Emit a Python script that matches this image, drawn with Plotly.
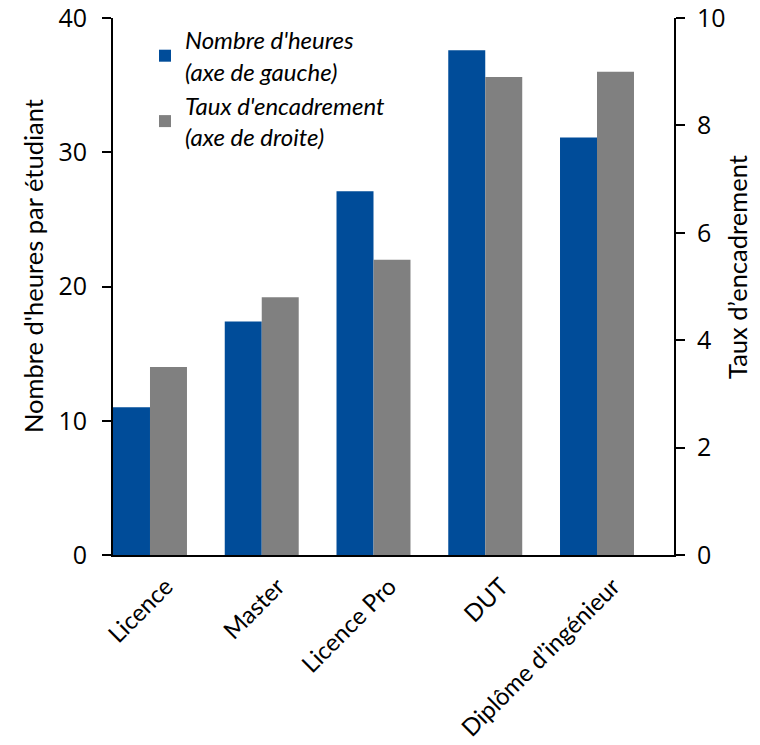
import plotly.graph_objects as go

# Filières et valeurs
categories = ["Licence", "Master", "Licence Pro", "DUT", "Diplôme d’ingénieur"]
heures = [11.0, 17.4, 27.1, 37.6, 31.1]          # axe de gauche
encadrement = [3.5, 4.8, 5.5, 8.9, 9.0]          # axe de droite
left_ticks = [0, 10, 20, 30, 40]
right_ticks = [0, 2, 4, 6, 8, 10]

BLUE = "#004C99"
GREY = "#808080"
BAR_W = 0.331
xpos = list(range(len(categories)))

fig = go.Figure()
fig.add_trace(go.Bar(
    x=xpos, y=heures, name="Nombre d'heures<br>(axe de gauche)",
    marker=dict(color=BLUE, line=dict(width=0)),
    width=BAR_W, offset=-BAR_W, yaxis="y",
))
fig.add_trace(go.Bar(
    x=xpos, y=encadrement, name="Taux d'encadrement<br>(axe de droite)",
    marker=dict(color=GREY, line=dict(width=0)),
    width=BAR_W, offset=0, yaxis="y2",
))

tick_font = dict(family="Open Sans", size=25, color="#000000")
label_font = dict(family="Lato", size=24, color="#000000")
title_font = dict(family="Lato", size=25.5, color="#000000")

fig.update_layout(
    width=760, height=745,
    margin=dict(l=113, r=86, t=18, b=190),
    paper_bgcolor="white", plot_bgcolor="white",
    barmode="overlay",
    showlegend=True,
    legend=dict(
        x=0.057, y=1.0, xanchor="left", yanchor="top",
        font=dict(family="Lato", size=24, color="#000000", style="italic"),
        bgcolor="rgba(0,0,0,0)", tracegroupgap=0,
    ),
    xaxis=dict(
        range=[-BAR_W, 4.689], tickmode="array", tickvals=xpos, ticktext=categories,
        tickangle=-45, tickfont=label_font, showgrid=False, zeroline=False,
        showline=True, linecolor="#000000", linewidth=2, ticks="",
        ticklabelshift=16, ticklabelstandoff=6, automargin=False,
    ),
    yaxis=dict(
        range=[0, 40], tickmode="array", tickvals=left_ticks, tickfont=tick_font,
        showgrid=False, zeroline=False, showline=True, linecolor="#000000",
        linewidth=2, ticks="outside", ticklen=9, tickwidth=2, tickcolor="#000000",
        ticklabelstandoff=10, automargin=False, ticklabeloverflow="allow",
    ),
    yaxis2=dict(
        range=[0, 10], tickmode="array", tickvals=right_ticks, tickfont=tick_font,
        overlaying="y", side="right", showgrid=False, zeroline=False,
        showline=True, linecolor="#000000", linewidth=2, ticks="outside",
        ticklen=9, tickwidth=2, tickcolor="#000000",
        ticklabelstandoff=7, automargin=False, ticklabeloverflow="allow",
    ),
    annotations=[
        dict(text="Nombre d'heures par étudiant", textangle=-90, font=title_font,
             xref="paper", yref="paper", x=(33 - 113) / 561, y=(555 - 266) / 537,
             xanchor="center", yanchor="middle", showarrow=False),
        dict(text="Taux d’encadrement", textangle=-90, font=title_font,
             xref="paper", yref="paper", x=(737 - 113) / 561, y=(555 - 267) / 537,
             xanchor="center", yanchor="middle", showarrow=False),
    ],
)

fig.write_html("out.html")
